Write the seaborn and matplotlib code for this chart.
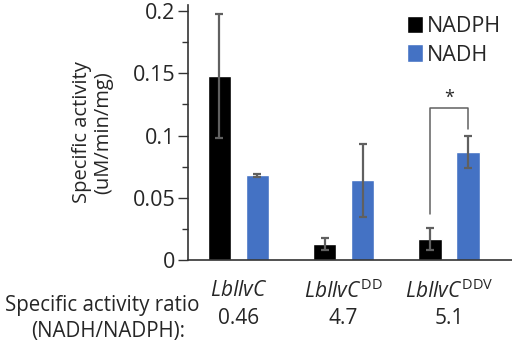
import numpy as np
import pandas as pd
import matplotlib
matplotlib.use("Agg")
import matplotlib.pyplot as plt
import seaborn as sns
from matplotlib.ticker import MultipleLocator
from matplotlib.transforms import blended_transform_factory

# data
enzymes = ["LbIlvC", "LbIlvC_DD", "LbIlvC_DDV"]
tick_labels = [r"$\it{LbIlvC}$", r"$\it{LbIlvC}^{\rm{DD}}$", r"$\it{LbIlvC}^{\rm{DDV}}$"]
cofactors = ["NADPH", "NADH"]
nadph_mean = [0.148, 0.013, 0.017]
nadph_err = [0.050, 0.005, 0.009]
nadh_mean = [0.068, 0.064, 0.087]
nadh_err = [0.0015, 0.029, 0.013]
ratios = ["0.46", "4.7", "5.1"]
colors = ["#000000", "#4472C4"]

sns.set_style("ticks")
plt.rcParams["font.family"] = ["Open Sans", "DejaVu Sans"]
plt.rcParams["mathtext.fontset"] = "custom"
plt.rcParams["mathtext.rm"] = "Open Sans"
plt.rcParams["mathtext.it"] = "Open Sans:italic"

df = pd.DataFrame({
    "enzyme": enzymes * 2,
    "cofactor": ["NADPH"] * 3 + ["NADH"] * 3,
    "activity": nadph_mean + nadh_mean,
    "err": nadph_err + nadh_err,
})

fig = plt.figure(figsize=(5.12, 3.45), dpi=100)
ax = fig.add_axes([0.367, 0.246, 0.633, 0.74])

sns.barplot(data=df, x="enzyme", y="activity", hue="cofactor", order=enzymes,
            hue_order=cofactors, palette=colors, width=0.72, gap=0.38,
            errorbar=None, saturation=1, ax=ax)

# error bars on top of the bars
for container, cof in zip(ax.containers, cofactors):
    sub = df[df["cofactor"] == cof].set_index("enzyme").loc[enzymes]
    xs = [b.get_x() + b.get_width() / 2 for b in container]
    ax.errorbar(xs, sub["activity"], yerr=sub["err"], fmt="none",
                ecolor="#606060", elinewidth=1.6, capsize=3, capthick=1.6)

# significance bracket for the DDV pair
b_left = ax.containers[0][2]
b_right = ax.containers[1][2]
xl = b_left.get_x() + b_left.get_width() / 2
xr = b_right.get_x() + b_right.get_width() / 2
ax.plot([xl, xl, xr, xr], [0.037, 0.122, 0.122, 0.105], color="#606060", lw=1.1)
ax.text((xl + xr) / 2, 0.123, "*", ha="center", va="bottom", fontsize=13)

ax.set_xlim(-0.48, 2.6)
ax.set_ylim(0, 0.205)
ax.set_yticks([0, 0.05, 0.1, 0.15, 0.2])
ax.set_yticklabels(["0", "0.05", "0.1", "0.15", "0.2"])
ax.yaxis.set_minor_locator(MultipleLocator(0.025))
ax.tick_params(axis="y", which="major", length=7, width=1, labelsize=15.5, pad=2, color="#333333")
ax.tick_params(axis="y", which="minor", length=4, width=1, color="#333333")
ax.tick_params(axis="x", length=0, labelsize=15, pad=14)
ax.set_xticks(range(len(enzymes)))
ax.set_xticklabels(tick_labels)
ax.set_xlabel("")
ax.set_ylabel("Specific activity\n(uM/min/mg)", fontsize=14.5, labelpad=14, linespacing=1.1)
for s in ["left", "bottom"]:
    ax.spines[s].set_color("#333333")
    ax.spines[s].set_linewidth(1.2)
sns.despine(ax=ax)

ax.legend(loc="upper right", bbox_to_anchor=(1.0, 1.0), frameon=False, fontsize=15.5,
          handlelength=0.75, handleheight=0.9, handletextpad=0.2, labelspacing=0.35,
          borderaxespad=0.1)

# ratio row below the axis
trans = blended_transform_factory(ax.transData, fig.transFigure)
for i, r in enumerate(ratios):
    ax.text(i, 1 - 318 / 345, r, transform=trans, ha="center", va="center", fontsize=15)
fig.text(102 / 512, 1 - 305 / 345, "Specific activity ratio", ha="center", va="center", fontsize=14.8)
fig.text(108 / 512, 1 - 331 / 345, "(NADH/NADPH):", ha="center", va="center", fontsize=14.8)

fig.savefig("out.png", dpi=100)
